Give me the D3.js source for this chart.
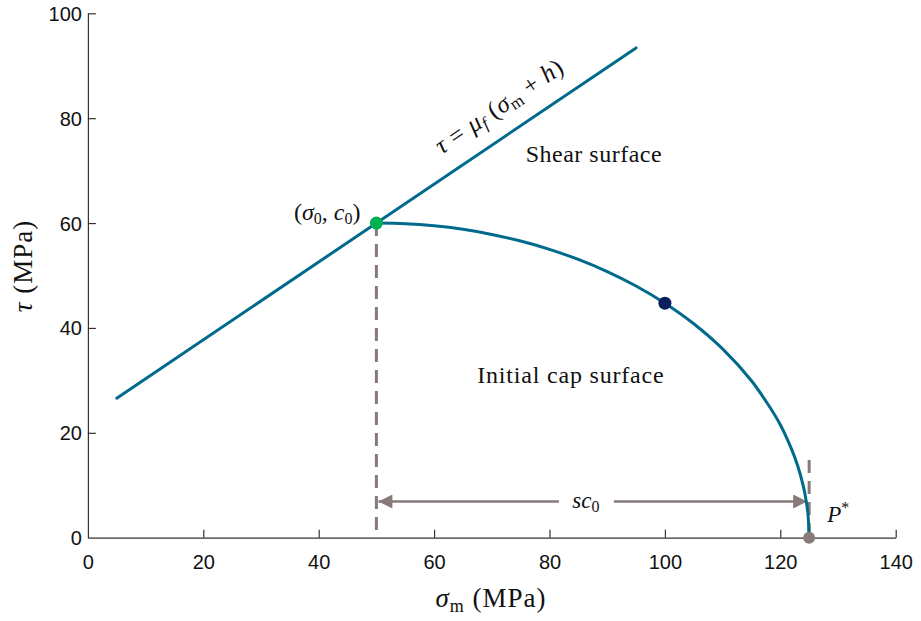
<!DOCTYPE html>
<html>
<head>
<meta charset="utf-8">
<script src="https://cdn.jsdelivr.net/npm/d3@7"></script>
<style>
  html, body { margin: 0; padding: 0; background: #fff; }
  svg { display: block; }
  .tick text { font-family: "Liberation Sans", Arial, sans-serif; font-size: 20px; fill: #111; }
  .math { font-family: "Liberation Serif", "DejaVu Serif", serif; fill: #111; }
</style>
</head>
<body>
<svg id="chart" width="921" height="621"></svg>
<script>
// Axis ticks
const xTicks = [0, 20, 40, 60, 80, 100, 120, 140];
const yTicks = [0, 20, 40, 60, 80, 100];

// Shear failure line tau = mu_f (sigma_m + h)
const shearSigma = [5, 95];
const shearTau = [26.6, 93.4];

// Initial cap surface, from the apex (sigma0, c0) down to P*
const capSigma = [50, 55, 60, 65, 70, 75, 80, 85, 90, 95, 100, 105, 110, 115, 118, 120, 122, 123, 124, 124.5, 124.8, 125];
const capTau   = [60, 59.87, 59.47, 58.8, 57.83, 56.57, 54.99, 53.06, 50.75, 48.0, 44.72, 40.8, 36.0, 29.93, 25.2, 21.54, 16.75, 13.76, 9.77, 6.92, 4.38, 0];

// Marked states
const apex = [50, 60];          // (sigma0, c0)
const midPoint = [100, 44.72];  // state on the cap
const pStar = [125, 0];         // P*

const svg = d3.select("#chart");
const x = d3.scaleLinear().domain([0, 140]).range([87.9, 895.7]);
const y = d3.scaleLinear().domain([0, 100]).range([537.7, 13.3]);

const teal = "#006a8c";
const gray = "#887a7a";

// Axes: ticks point inward
const xAxis = d3.axisBottom(x).tickValues(xTicks).tickSize(-8).tickPadding(17).tickSizeOuter(0);
const yAxis = d3.axisLeft(y).tickValues(yTicks).tickSize(-8).tickPadding(6).tickSizeOuter(0);

const gx = svg.append("g").attr("transform", `translate(0,${y(0)})`).call(xAxis);
const gy = svg.append("g").attr("transform", `translate(${x(0)},0)`).call(yAxis);
[gx, gy].forEach(g => {
  g.select(".domain").attr("stroke", "#333").attr("stroke-width", 1.2);
  g.selectAll(".tick line").attr("stroke", "#333").attr("stroke-width", 1.2);
});
gx.selectAll(".tick text").attr("dy", "0.71em");
gy.selectAll(".tick text").attr("dy", "0.35em");
gy.selectAll(".tick").filter(d => d === 0).select("line").remove();
gx.selectAll(".tick").filter(d => d === 0).select("line").remove();

// Dashed guides at sigma0 and P*
svg.append("line")
  .attr("x1", x(apex[0])).attr("x2", x(apex[0]))
  .attr("y1", y(apex[1])).attr("y2", y(0))
  .attr("stroke", gray).attr("stroke-width", 3).attr("stroke-dasharray", "13,8");
svg.append("line")
  .attr("x1", x(pStar[0])).attr("x2", x(pStar[0]))
  .attr("y1", y(14.8)).attr("y2", y(0))
  .attr("stroke", gray).attr("stroke-width", 3).attr("stroke-dasharray", "13,8");

// Double arrow for s*c0 with a gap for the label
const arrowY = y(6.9);
const defs = svg.append("defs");
defs.append("marker").attr("id", "head")
  .attr("viewBox", "0 0 10 10").attr("refX", 10).attr("refY", 5)
  .attr("markerWidth", 16).attr("markerHeight", 14).attr("markerUnits", "userSpaceOnUse")
  .attr("orient", "auto")
  .append("path").attr("d", "M0,0 L10,5 L0,10 z").attr("fill", gray);

const labelSigma = 86.3;
svg.append("line")
  .attr("x1", x(labelSigma) - 27).attr("x2", x(apex[0]) + 2)
  .attr("y1", arrowY).attr("y2", arrowY)
  .attr("stroke", gray).attr("stroke-width", 2.5).attr("marker-end", "url(#head)");
svg.append("line")
  .attr("x1", x(labelSigma) + 28).attr("x2", x(pStar[0]) - 2)
  .attr("y1", arrowY).attr("y2", arrowY)
  .attr("stroke", gray).attr("stroke-width", 2.5).attr("marker-end", "url(#head)");

const sc = svg.append("text").attr("class", "math")
  .attr("x", x(labelSigma)).attr("y", arrowY + 6)
  .attr("text-anchor", "middle").attr("font-size", 23).attr("font-style", "italic");
sc.append("tspan").text("sc");
sc.append("tspan").attr("font-size", 16).attr("font-style", "normal").attr("dy", 4).text("0");

// Shear line
svg.append("line")
  .attr("x1", x(shearSigma[0])).attr("y1", y(shearTau[0]))
  .attr("x2", x(shearSigma[1])).attr("y2", y(shearTau[1]))
  .attr("stroke", teal).attr("stroke-width", 3).attr("stroke-linecap", "round");

// Cap curve
const capLine = d3.line().x(d => x(d[0])).y(d => y(d[1])).curve(d3.curveCatmullRom.alpha(0.5));
svg.append("path")
  .datum(capSigma.map((s, i) => [s, capTau[i]]))
  .attr("d", capLine)
  .attr("fill", "none").attr("stroke", teal).attr("stroke-width", 3);

// Points
svg.append("circle").attr("cx", x(pStar[0])).attr("cy", y(pStar[1])).attr("r", 6).attr("fill", gray);
svg.append("circle").attr("cx", x(apex[0])).attr("cy", y(apex[1])).attr("r", 6.5).attr("fill", "#00b14f");
svg.append("circle").attr("cx", x(midPoint[0])).attr("cy", y(midPoint[1])).attr("r", 6.5).attr("fill", "#0b1f5c");

// Equation label along the shear line
const angle = Math.atan2(y(shearTau[0]) - y(shearTau[1]), x(shearSigma[1]) - x(shearSigma[0])) * 180 / Math.PI;
const eqSigma = 74;
const eqTau = shearTau[0] + (shearTau[1] - shearTau[0]) * (eqSigma - shearSigma[0]) / (shearSigma[1] - shearSigma[0]);
const eq = svg.append("text").attr("class", "math")
  .attr("transform", `translate(${x(eqSigma)},${y(eqTau)}) rotate(${-angle})`)
  .attr("y", -20).attr("text-anchor", "middle").attr("font-size", 25)
  .attr("letter-spacing", 0.6);
eq.append("tspan").attr("font-style", "italic").text("τ");
eq.append("tspan").text(" = ");
eq.append("tspan").attr("font-style", "italic").text("μ");
eq.append("tspan").attr("font-style", "italic").attr("font-size", 17).attr("dy", 4).text("f");
eq.append("tspan").attr("dy", -4).text(" (");
eq.append("tspan").attr("font-style", "italic").text("σ");
eq.append("tspan").attr("font-size", 17).attr("dy", 4).text("m");
eq.append("tspan").attr("dy", -4).text(" + ");
eq.append("tspan").attr("font-style", "italic").text("h");
eq.append("tspan").text(")");

// Region labels
svg.append("text").attr("class", "math").attr("x", x(87.7)).attr("y", y(71.6))
  .attr("text-anchor", "middle").attr("font-size", 24).attr("letter-spacing", 0.5).text("Shear surface");
svg.append("text").attr("class", "math").attr("x", x(83.7)).attr("y", y(29.5))
  .attr("text-anchor", "middle").attr("font-size", 24).attr("letter-spacing", 0.8).text("Initial cap surface");

// (sigma0, c0)
const ap = svg.append("text").attr("class", "math")
  .attr("x", x(apex[0]) - 16).attr("y", y(apex[1]) - 3)
  .attr("text-anchor", "end").attr("font-size", 24);
ap.append("tspan").text("(");
ap.append("tspan").attr("font-style", "italic").text("σ");
ap.append("tspan").attr("font-size", 16).attr("dy", 4).text("0");
ap.append("tspan").attr("dy", -4).text(", ");
ap.append("tspan").attr("font-style", "italic").text("c");
ap.append("tspan").attr("font-size", 16).attr("dy", 4).text("0");
ap.append("tspan").attr("dy", -4).text(")");

// P*
const ps = svg.append("text").attr("class", "math")
  .attr("x", x(pStar[0]) + 18).attr("y", y(pStar[1]) - 16).attr("font-size", 23);
ps.append("tspan").attr("font-style", "italic").text("P");
ps.append("tspan").attr("font-size", 16).attr("dy", -9).text("*");

// Axis titles
const xt = svg.append("text").attr("class", "math")
  .attr("x", 491).attr("y", 607).attr("text-anchor", "middle").attr("font-size", 27)
  .attr("letter-spacing", 1);
xt.append("tspan").attr("font-style", "italic").text("σ");
xt.append("tspan").attr("font-size", 18).attr("dy", 5).text("m");
xt.append("tspan").attr("dy", -5).text("  (MPa)");

const yt = svg.append("text").attr("class", "math")
  .attr("transform", "translate(32,266) rotate(-90)")
  .attr("text-anchor", "middle").attr("font-size", 27).attr("letter-spacing", 1);
yt.append("tspan").attr("font-style", "italic").text("τ");
yt.append("tspan").text("  (MPa)");
</script>
</body>
</html>
